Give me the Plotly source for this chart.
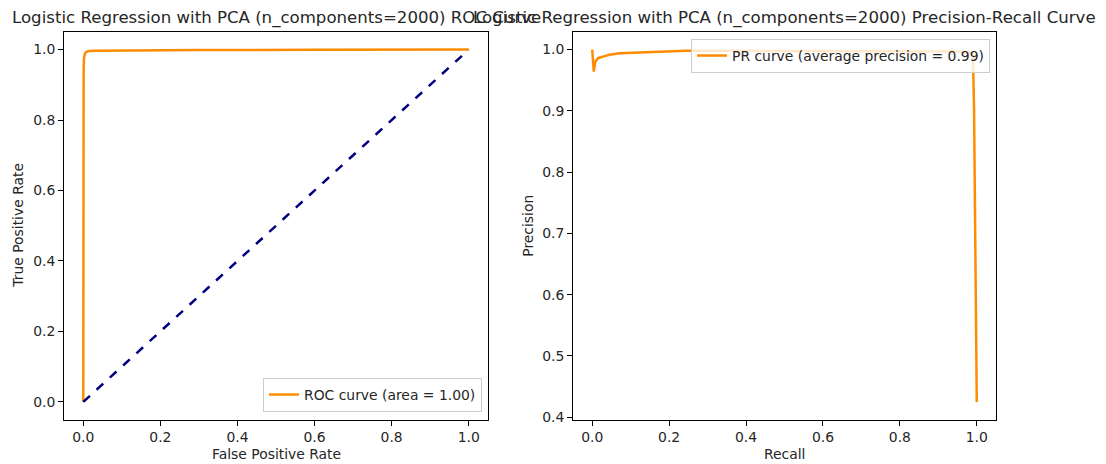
import plotly.graph_objects as go

# ROC data
roc_fpr = [0.0, 0.0, 0.0005, 0.001, 0.002, 0.004, 0.008, 0.015, 0.03, 0.1, 0.3, 0.6, 1.0]
roc_tpr = [0.0, 0.5, 0.90, 0.95, 0.976, 0.988, 0.994, 0.996, 0.997, 0.998, 0.999, 0.9995, 1.0]
diag_x = [0.0, 1.0]
diag_y = [0.0, 1.0]

# PR data
pr_recall = [0.0, 0.004, 0.008, 0.015, 0.03, 0.045, 0.071, 0.115, 0.2, 0.245, 0.4, 0.6, 0.8, 0.95, 0.985, 0.99, 0.993, 0.996, 1.0]
pr_precision = [1.0, 0.964, 0.980, 0.986, 0.989, 0.9915, 0.994, 0.995, 0.997, 0.998, 0.998, 0.998, 0.998, 0.997, 0.995, 0.99, 0.90, 0.70, 0.425]

roc_label = "ROC curve (area = 1.00)"
pr_label = "PR curve (average precision = 0.99)"
title_left = "Logistic Regression with PCA (n_components=2000) ROC Curve"
title_right = "Logistic Regression with PCA (n_components=2000) Precision-Recall Curve"

W, H = 1098, 456
OFF = 8  # page body margin
FONT = "DejaVu Sans"
TXT = "#262626"
FS = 13.9
FS_TITLE = 16.6
orange = "#ff8c00"
navy = "#000080"

fig = go.Figure()
fig.add_trace(go.Scatter(x=roc_fpr, y=roc_tpr, mode="lines", name=roc_label,
                         line=dict(color=orange, width=2.5), xaxis="x", yaxis="y", legend="legend"))
fig.add_trace(go.Scatter(x=diag_x, y=diag_y, mode="lines", showlegend=False,
                         line=dict(color=navy, width=2.5, dash="dash"), xaxis="x", yaxis="y"))
fig.add_trace(go.Scatter(x=pr_recall, y=pr_precision, mode="lines", name=pr_label,
                         line=dict(color=orange, width=2.5), xaxis="x2", yaxis="y2", legend="legend2"))

def px_x(p):
    return (p - OFF) / W

def px_y(p):
    return 1 - (p - OFF) / H

axis_common = dict(showline=True, linecolor="black", linewidth=1, mirror=True,
                   ticks="outside", ticklen=5, tickcolor="black", tickwidth=1,
                   showgrid=False, zeroline=False, automargin=False,
                   tickfont=dict(family=FONT, size=FS, color=TXT),
                   tickformat=".1f")

L1, R1 = 64, 488
L2, R2 = 573, 996
TOP, BOT = 32, 419.5

fig.update_layout(
    width=W, height=H,
    margin=dict(l=0, r=0, t=0, b=0),
    paper_bgcolor="white", plot_bgcolor="white",
    font=dict(family=FONT, color=TXT),
    xaxis=dict(domain=[px_x(L1), px_x(R1)], range=[-0.05, 1.05], tickvals=[0, 0.2, 0.4, 0.6, 0.8, 1.0],
               anchor="y", **axis_common),
    yaxis=dict(domain=[px_y(BOT), px_y(TOP)], range=[-0.05, 1.05], tickvals=[0, 0.2, 0.4, 0.6, 0.8, 1.0],
               anchor="x", **axis_common),
    xaxis2=dict(domain=[px_x(L2), px_x(R2)], range=[-0.05, 1.05], tickvals=[0, 0.2, 0.4, 0.6, 0.8, 1.0],
                anchor="y2", **axis_common),
    yaxis2=dict(domain=[px_y(BOT), px_y(TOP)], range=[0.39625, 1.02875], tickvals=[0.4, 0.5, 0.6, 0.7, 0.8, 0.9, 1.0],
                anchor="x2", **axis_common),
    legend=dict(x=px_x(482), y=px_y(412), xanchor="right", yanchor="bottom",
                bgcolor="rgba(255,255,255,0.8)", bordercolor="#cccccc", borderwidth=1,
                font=dict(family=FONT, size=FS, color=TXT)),
    legend2=dict(x=px_x(990), y=px_y(39), xanchor="right", yanchor="top",
                 bgcolor="rgba(255,255,255,0.8)", bordercolor="#cccccc", borderwidth=1,
                 font=dict(family=FONT, size=FS, color=TXT)),
    showlegend=True,
    annotations=[
        dict(text=title_left, x=px_x((L1 + R1) / 2), y=px_y(18.5), xref="paper", yref="paper",
             showarrow=False, xanchor="center", yanchor="middle",
             font=dict(family=FONT, size=FS_TITLE, color=TXT)),
        dict(text=title_right, x=px_x((L2 + R2) / 2), y=px_y(18.5), xref="paper", yref="paper",
             showarrow=False, xanchor="center", yanchor="middle",
             font=dict(family=FONT, size=FS_TITLE, color=TXT)),
        dict(text="False Positive Rate", x=px_x((L1 + R1) / 2), y=px_y(454), xref="paper", yref="paper",
             showarrow=False, xanchor="center", yanchor="middle",
             font=dict(family=FONT, size=FS, color=TXT)),
        dict(text="Recall", x=px_x((L2 + R2) / 2), y=px_y(454), xref="paper", yref="paper",
             showarrow=False, xanchor="center", yanchor="middle",
             font=dict(family=FONT, size=FS, color=TXT)),
        dict(text="True Positive Rate", x=px_x(18), y=px_y((TOP + BOT) / 2), xref="paper", yref="paper",
             showarrow=False, xanchor="center", yanchor="middle", textangle=-90,
             font=dict(family=FONT, size=FS, color=TXT)),
        dict(text="Precision", x=px_x(528), y=px_y((TOP + BOT) / 2), xref="paper", yref="paper",
             showarrow=False, xanchor="center", yanchor="middle", textangle=-90,
             font=dict(family=FONT, size=FS, color=TXT)),
    ],
)

fig.write_html("out.html")
